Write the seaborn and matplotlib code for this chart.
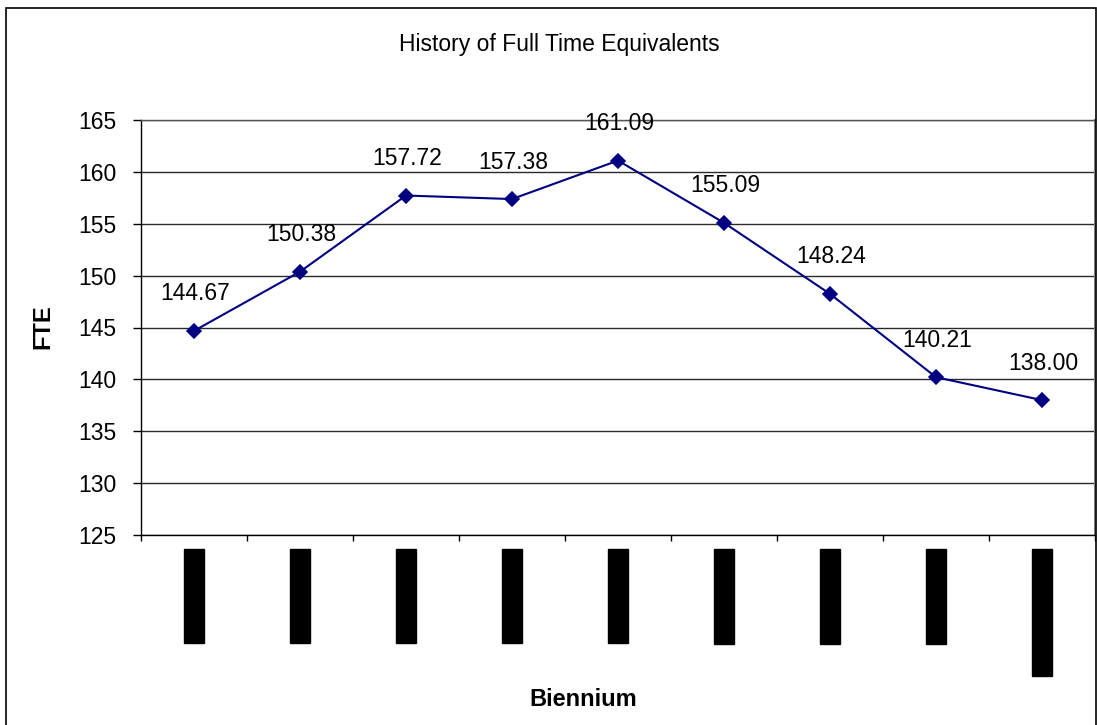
"""
History of Full Time Equivalents - line chart per biennium.
"""

import numpy as np
import pandas as pd
import matplotlib
matplotlib.use("Agg")
import matplotlib.pyplot as plt
import seaborn as sns
from matplotlib.patches import Rectangle
from matplotlib.ticker import FixedLocator, MultipleLocator

# data (biennium labels are blacked out in the source)
bienniums = ['1991-1993', '1993-1995', '1995-1997', '1997-1999', '1999-2001',
             '2001-2003', '2003-2005', '2005-2007', '2007-2009 est']
fte = [144.67, 150.38, 157.72, 157.38, 161.09, 155.09, 148.24, 140.21, 138.00]

sns.set_style('white')
plt.rcParams['font.family'] = ['Liberation Sans', 'DejaVu Sans']
plt.rcParams['text.color'] = 'black'
plt.rcParams['axes.labelcolor'] = 'black'
plt.rcParams['xtick.color'] = 'black'
plt.rcParams['ytick.color'] = 'black'

df = pd.DataFrame({'Biennium': bienniums, 'FTE': fte})

W, H = 1097, 725
fig = plt.figure(figsize=(W / 100, H / 100), dpi=100)
ax = fig.add_axes([141 / W, (H - 535) / H, (1095 - 141) / W, (535 - 120) / H])

# outer chart border
fig.patches.append(Rectangle((6 / W, -0.05), (1096 - 6) / W, (H - 8) / H + 0.05,
                             transform=fig.transFigure, fill=False,
                             edgecolor='black', linewidth=1.2))

ax.yaxis.grid(True, color='#2a2a2a', linewidth=1)
ax.set_axisbelow(True)

sns.pointplot(data=df, x='Biennium', y='FTE', ax=ax, color='#000080',
              markers='D', markersize=7.2, linewidth=1.5, errorbar=None)

for i, v in enumerate(fte):
    ax.annotate(f'{v:.2f}', (i, v), xytext=(1, 26.6), textcoords='offset points',
                ha='center', va='center', fontsize=16.5, color='black')

ax.set_ylim(125, 165)
ax.set_xlim(-0.5, len(bienniums) - 0.5)
ax.yaxis.set_major_locator(MultipleLocator(5))
ax.xaxis.set_minor_locator(FixedLocator(np.arange(-0.5, len(bienniums), 1.0)))

ax.tick_params(axis='y', which='major', direction='out', length=5.8, width=1,
               color='black', pad=12, labelsize=16.5, labelcolor='black', left=True)
ax.tick_params(axis='x', which='major', length=0, pad=10, labelsize=14.2,
               labelrotation=90, bottom=True)
ax.tick_params(axis='x', which='minor', direction='out', length=4.3, width=1,
               color='black', bottom=True)

for lbl in ax.get_xticklabels():
    lbl.set_color('black')
    lbl.set_bbox(dict(facecolor='black', edgecolor='black', pad=0.2))

for side in ['left', 'bottom']:
    ax.spines[side].set_color('black')
    ax.spines[side].set_linewidth(1)
ax.spines['right'].set_color('#808080')
ax.spines['right'].set_linewidth(1.5)
ax.spines['top'].set_color('#555555')
ax.spines['top'].set_linewidth(1)

ax.set_xlabel('Biennium', fontsize=17, fontweight='bold', color='black')
ax.set_ylabel('FTE', fontsize=17, fontweight='bold', color='black')
ax.xaxis.set_label_coords((583 - 141) / 954, (535 - 700) / 415)
ax.yaxis.set_label_coords((43 - 141) / 954, (535 - 327) / 415)
ax.xaxis.label.set_va('center')
ax.yaxis.label.set_va('center')

fig.text(559 / W, (H - 45) / H, 'History of Full Time Equivalents',
         ha='center', va='center', fontsize=16.5, color='black')

fig.savefig('out.png', dpi=100)
